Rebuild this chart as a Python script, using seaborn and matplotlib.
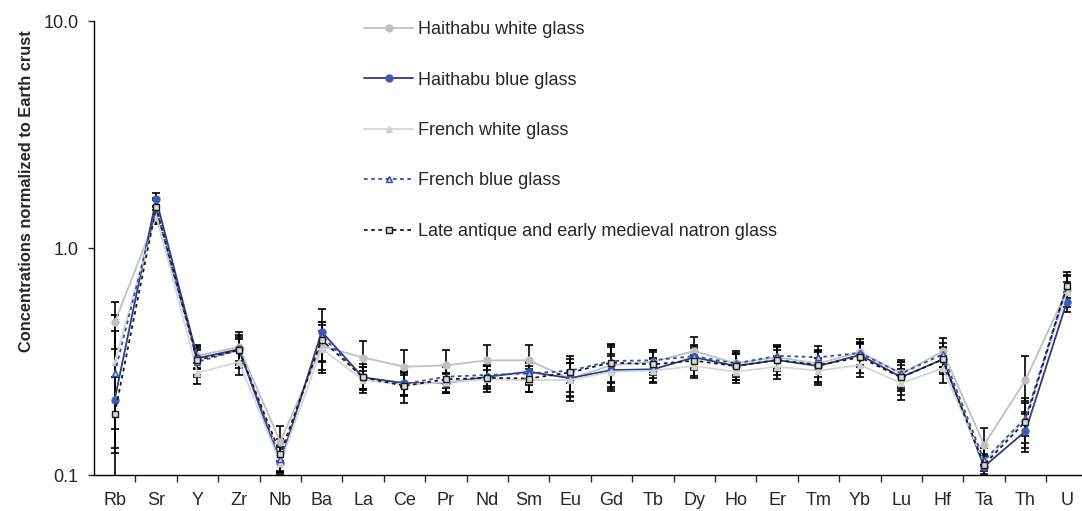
import numpy as np
import pandas as pd
import matplotlib
matplotlib.use("Agg")
import matplotlib.pyplot as plt
import seaborn as sns
from matplotlib.ticker import FixedLocator, NullLocator

# ----------------------------
# Dados
# ----------------------------
elements = ["Rb", "Sr", "Y", "Zr", "Nb", "Ba", "La", "Ce", "Pr", "Nd", "Sm", "Eu",
            "Gd", "Tb", "Dy", "Ho", "Er", "Tm", "Yb", "Lu", "Hf", "Ta", "Th", "U"]

haithabu_white = [0.47, 1.37, 0.335, 0.367, 0.140, 0.37, 0.329, 0.300, 0.304, 0.320, 0.320, 0.265,
                  0.305, 0.315, 0.352, 0.310, 0.330, 0.310, 0.348, 0.280, 0.350, 0.136, 0.262, 0.65]
haithabu_blue = [0.215, 1.64, 0.327, 0.358, 0.113, 0.428, 0.269, 0.254, 0.254, 0.271, 0.285, 0.267,
                 0.290, 0.292, 0.330, 0.302, 0.321, 0.302, 0.338, 0.270, 0.323, 0.109, 0.156, 0.580]
french_white = [0.315, 1.40, 0.282, 0.315, 0.113, 0.36, 0.262, 0.250, 0.256, 0.264, 0.262, 0.262,
                0.285, 0.288, 0.302, 0.285, 0.300, 0.288, 0.305, 0.254, 0.295, 0.114, 0.178, 0.64]
french_blue = [0.281, 1.50, 0.315, 0.355, 0.118, 0.41, 0.270, 0.252, 0.271, 0.276, 0.280, 0.288,
               0.318, 0.320, 0.334, 0.310, 0.335, 0.330, 0.345, 0.280, 0.340, 0.116, 0.178, 0.68]
late_antique = [0.186, 1.51, 0.321, 0.355, 0.124, 0.394, 0.269, 0.247, 0.264, 0.268, 0.266, 0.283,
                0.313, 0.307, 0.319, 0.302, 0.321, 0.305, 0.330, 0.269, 0.323, 0.111, 0.172, 0.680]

# desvios (absolutos)
haithabu_white_err = [0.11, 0.10, 0.04, 0.06, 0.025, 0.09, 0.06, 0.055, 0.05, 0.055, 0.055, 0.045,
                      0.06, 0.04, 0.055, 0.04, 0.04, 0.04, 0.05, 0.04, 0.05, 0.025, 0.073, 0.10]
haithabu_blue_err = [0.056, 0.11, 0.035, 0.04, 0.012, 0.11, 0.03, 0.03, 0.025, 0.03, 0.03, 0.045,
                     0.05, 0.035, 0.04, 0.04, 0.035, 0.045, 0.04, 0.035, 0.04, 0.012, 0.03, 0.06]
french_white_err = [0.19, 0.12, 0.03, 0.04, 0.01, 0.07, 0.025, 0.025, 0.025, 0.025, 0.03, 0.05,
                    0.05, 0.035, 0.035, 0.03, 0.035, 0.04, 0.035, 0.04, 0.04, 0.01, 0.03, 0.07]
french_blue_err = [0.15, 0.12, 0.04, 0.05, 0.015, 0.06, 0.03, 0.03, 0.03, 0.03, 0.03, 0.035,
                   0.06, 0.035, 0.04, 0.035, 0.04, 0.04, 0.04, 0.035, 0.04, 0.015, 0.04, 0.08]
late_antique_err = [0.32, 0.15, 0.05, 0.06, 0.02, 0.08, 0.04, 0.04, 0.035, 0.035, 0.035, 0.05,
                    0.06, 0.04, 0.045, 0.04, 0.045, 0.05, 0.05, 0.045, 0.045, 0.02, 0.04, 0.10]

labels = ["Haithabu white glass", "Haithabu blue glass", "French white glass",
          "French blue glass", "Late antique and early medieval natron glass"]

# ----------------------------
# Estilos por série
# ----------------------------
styles = [
    dict(color="#c0c0c0", marker="o", mfc="#c0c0c0", mec="#c0c0c0", ls="-", ms=5),
    dict(color="#2b3a8c", marker="o", mfc="#3b5bb5", mec="#3b5bb5", ls="-", ms=5),
    dict(color="#d6d6d6", marker="^", mfc="#cfcfcf", mec="#cfcfcf", ls="-", ms=5),
    dict(color="#2f50a8", marker="^", mfc="#c8d0e8", mec="#2f50a8", ls=(0, (2, 2)), ms=5),
    dict(color="#1a1a1a", marker="s", mfc="#d9d9d9", mec="#1a1a1a", ls=(0, (2, 2)), ms=5),
]

series = [haithabu_white, haithabu_blue, french_white, french_blue, late_antique]
errors = [haithabu_white_err, haithabu_blue_err, french_white_err, french_blue_err, late_antique_err]

sns.set_style("ticks")
plt.rcParams["font.family"] = ["Liberation Sans", "DejaVu Sans"]

fig = plt.figure(figsize=(10.82, 5.11), dpi=100)
ax = fig.add_axes([94 / 1082, 36 / 511, 24 * 41.4 / 1082, 454 / 511])

x = np.arange(len(elements))

# barras de erro
for vals, err in zip(series, errors):
    ax.errorbar(x, vals, yerr=err, fmt="none", ecolor="black", elinewidth=1.2,
                capsize=3, capthick=1.2, zorder=2)

# linhas
for vals, lab, st in zip(series, labels, styles):
    df = pd.DataFrame({"pos": x, "val": vals})
    sns.lineplot(data=df, x="pos", y="val", ax=ax, label=lab, color=st["color"],
                 linestyle=st["ls"], linewidth=1.3, marker=st["marker"], markersize=st["ms"],
                 markerfacecolor=st["mfc"], markeredgecolor=st["mec"], markeredgewidth=1,
                 zorder=3)

ax.set_yscale("log")
ax.set_ylim(0.1, 10)
ax.set_xlim(-0.5, len(elements) - 0.5)

ax.yaxis.set_major_locator(FixedLocator([0.1, 1, 10]))
ax.yaxis.set_minor_locator(NullLocator())
ax.set_yticklabels(["0.1", "1.0", "10.0"])

ax.set_xticks(x)
ax.set_xticklabels(elements)
ax.set_xticks(np.arange(0.5, len(elements) - 1, 1), minor=True)
ax.tick_params(axis="x", which="major", length=0, labelsize=13, pad=12)
ax.tick_params(axis="x", which="minor", length=5, direction="out", width=1)
ax.tick_params(axis="y", which="major", length=4.3, direction="out", labelsize=13, width=1, pad=7)

ax.set_xlabel("")
ax.set_ylabel("Concentrations normalized to Earth crust", fontsize=11.8, fontweight="bold")
ax.yaxis.set_label_coords(-0.060, 0.626)

sns.despine(ax=ax)
for sp in ["left", "bottom"]:
    ax.spines[sp].set_color("black")
    ax.spines[sp].set_linewidth(1)

leg = ax.legend(loc="upper left", bbox_to_anchor=(348 / 1082, 1 - 5 / 511),
                bbox_transform=fig.transFigure, frameon=False, fontsize=13,
                labelspacing=1.85, handlelength=2.7, handletextpad=0.25)

fig.savefig("out.png", dpi=100)
